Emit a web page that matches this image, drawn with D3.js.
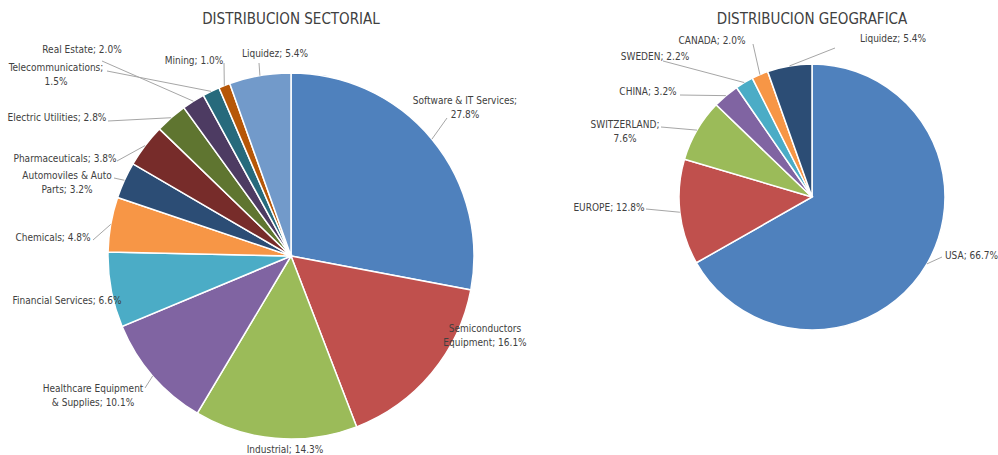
<!DOCTYPE html>
<html>
<head>
<meta charset="utf-8">
<script src="https://cdn.jsdelivr.net/npm/d3@7"></script>
<style>
  body { margin: 0; background: #fff; }
  svg { display: block; font-family: "Liberation Sans Narrow", "DejaVu Sans Condensed", sans-serif; }
  .label { font-size: 10px; fill: #404040; }
  .title { font-size: 15px; fill: #404040; }
  .leader { fill: none; stroke: #a6a6a6; stroke-width: 1; }
</style>
</head>
<body>
<svg id="chart" width="998" height="455"></svg>
<script>
// Sector data
const sectorNames = [
  "Software & IT Services", "Semiconductors Equipment", "Industrial",
  "Healthcare Equipment & Supplies", "Financial Services", "Chemicals",
  "Automoviles & Auto Parts", "Pharmaceuticals", "Electric Utilities",
  "Real Estate", "Telecommunications", "Mining", "Liquidez"
];
const sectorValues = [27.8, 16.1, 14.3, 10.1, 6.6, 4.8, 3.2, 3.8, 2.8, 2.0, 1.5, 1.0, 5.4];
const sectorColors = [
  "#4f81bd", "#c0504d", "#9bbb59", "#8064a2", "#4bacc6", "#f79646",
  "#2c4d75", "#772c2a", "#5f7530", "#4d3b62", "#276a7c", "#b65708", "#729aca"
];

// Geographic data
const geoNames = ["USA", "EUROPE", "SWITZERLAND", "CHINA", "SWEDEN", "CANADA", "Liquidez"];
const geoValues = [66.7, 12.8, 7.6, 3.2, 2.2, 2.0, 5.4];
const geoColors = ["#4f81bd", "#c0504d", "#9bbb59", "#8064a2", "#4bacc6", "#f79646", "#2c4d75"];

// label layout, relative to the pie centre: text position, anchor,
// words on first line (0 = no wrap), leader start (null = none)
const sectorLabelLayout = [
  { x: 174, y: -156, anchor: "middle", wrap: 4, lead: [156, -138] },
  { x: 194, y: 72, anchor: "middle", wrap: 1, lead: null },
  { x: -6, y: 193, anchor: "middle", wrap: 0, lead: null },
  { x: -198, y: 132, anchor: "middle", wrap: 2, lead: [-146, 132] },
  { x: -224, y: 44, anchor: "middle", wrap: 0, lead: null },
  { x: -238, y: -19, anchor: "middle", wrap: 0, lead: [-198, -16] },
  { x: -224, y: -81, anchor: "middle", wrap: 3, lead: [-177, -78] },
  { x: -226, y: -98, anchor: "middle", wrap: 0, lead: [-174, -95] },
  { x: -234, y: -139, anchor: "middle", wrap: 0, lead: [-183, -135] },
  { x: -209, y: -207, anchor: "middle", wrap: 0, lead: [-189, -195] },
  { x: -235, y: -189, anchor: "middle", wrap: 1, lead: [-184, -185] },
  { x: -97, y: -196, anchor: "middle", wrap: 0, lead: [-67, -193] },
  { x: -16, y: -203, anchor: "middle", wrap: 0, lead: [-32, -193] }
];

const geoLabelLayout = [
  { x: 133, y: 58, anchor: "start", wrap: 0, lead: [130, 60] },
  { x: -203, y: 10, anchor: "middle", wrap: 0, lead: [-166, 12] },
  { x: -187, y: -73, anchor: "middle", wrap: 1, lead: [-151, -70] },
  { x: -164, y: -106, anchor: "middle", wrap: 0, lead: [-132, -102] },
  { x: -157, y: -141, anchor: "middle", wrap: 0, lead: [-149, -136] },
  { x: -100, y: -157, anchor: "middle", wrap: 0, lead: [-59, -153] },
  { x: 81, y: -159, anchor: "middle", wrap: 0, lead: [23, -149] }
];

const svg = d3.select("#chart");

function drawPie(opts) {
  const { names, values, colors, layout, cx, cy, r, title } = opts;

  const g = svg.append("g").attr("transform", `translate(${cx},${cy})`);

  const pie = d3.pie().sort(null).value(d => d);
  const arcs = pie(values);
  const arc = d3.arc().innerRadius(0).outerRadius(r);

  g.selectAll("path.slice")
    .data(arcs)
    .join("path")
    .attr("class", "slice")
    .attr("d", arc)
    .attr("fill", (d, i) => colors[i])
    .attr("stroke", "#fff")
    .attr("stroke-width", 1.5);

  // leader lines go from label to the middle of the slice's outer edge
  g.selectAll("path.leader")
    .data(arcs.filter((d, i) => layout[i].lead))
    .join("path")
    .attr("class", "leader")
    .attr("d", d => {
      const mid = (d.startAngle + d.endAngle) / 2;
      const ex = r * Math.sin(mid);
      const ey = -r * Math.cos(mid);
      const [sx, sy] = layout[d.index].lead;
      return d3.line()([[sx, sy], [ex, ey]]);
    });

  const labels = g.selectAll("text.label")
    .data(arcs)
    .join("text")
    .attr("class", "label")
    .attr("text-anchor", (d, i) => layout[i].anchor)
    .attr("x", (d, i) => layout[i].x)
    .attr("y", (d, i) => layout[i].y + 4);

  labels.each(function(d, i) {
    const words = `${names[i]}; ${values[i].toFixed(1)}%`.split(" ");
    const w = layout[i].wrap;
    const lines = w ? [words.slice(0, w).join(" "), words.slice(w).join(" ")] : [words.join(" ")];
    d3.select(this)
      .selectAll("tspan")
      .data(lines)
      .join("tspan")
      .attr("x", layout[i].x)
      .attr("dy", (t, k) => (k === 0 ? 0 : 14))
      .text(t => t);
  });

  svg.append("text")
    .attr("class", "title")
    .attr("text-anchor", "middle")
    .attr("x", cx)
    .attr("y", 24)
    .text(title);
}

drawPie({
  names: sectorNames, values: sectorValues, colors: sectorColors,
  layout: sectorLabelLayout, cx: 291, cy: 256, r: 183,
  title: "DISTRIBUCION SECTORIAL"
});

drawPie({
  names: geoNames, values: geoValues, colors: geoColors,
  layout: geoLabelLayout, cx: 812, cy: 197, r: 133,
  title: "DISTRIBUCION GEOGRAFICA"
});
</script>
</body>
</html>
